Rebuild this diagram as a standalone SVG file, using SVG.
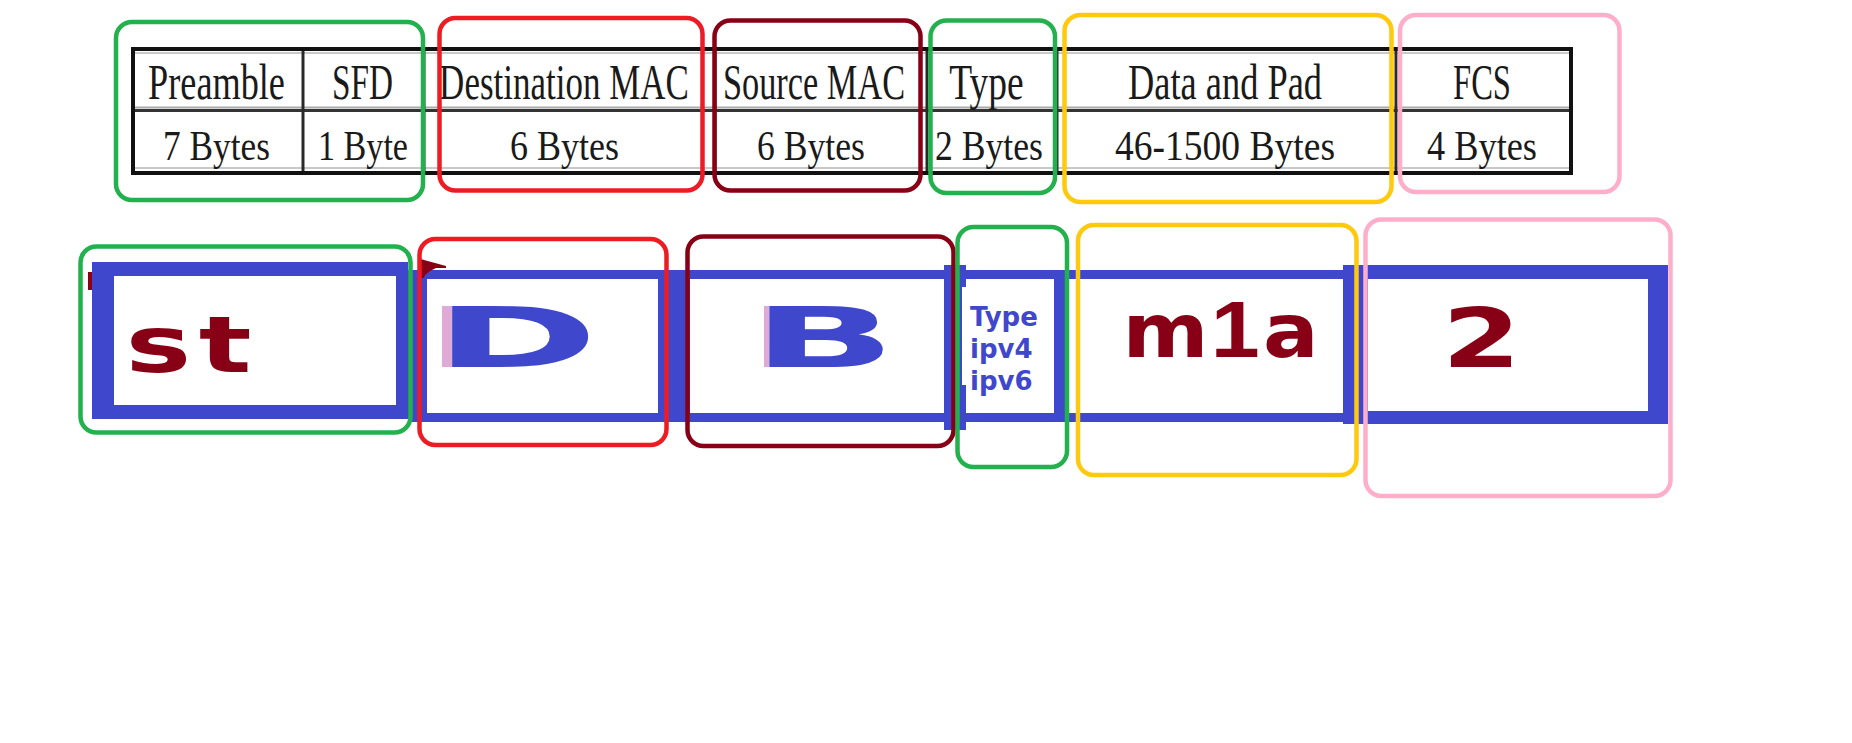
<svg xmlns="http://www.w3.org/2000/svg" width="1852" height="743" viewBox="0 0 1852 743">
  <defs>
    <style>
      .hdr { font-family: "Liberation Serif", "DejaVu Serif", serif; font-size: 50px; fill: #1a1a1a; text-anchor: middle; }
      .sz { font-family: "Liberation Serif", "DejaVu Serif", serif; font-size: 42px; fill: #1a1a1a; text-anchor: middle; }
      .grid { stroke: #2a2a2a; stroke-width: 3; fill: none; }
      .frame { fill: none; stroke-width: 4.5; }
      .green { stroke: #22B14C; }
      .red { stroke: #ED1C24; }
      .maroon { stroke: #880015; }
      .yellow { stroke: #FFC90E; }
      .pink { stroke: #FFAEC9; }
      .blue { fill: #3F48CC; }
      .big { font-family: "DejaVu Sans", "Liberation Sans", sans-serif; font-weight: bold; }
      .dr { fill: #880015; }
      .bl { fill: #3F48CC; }
      .small { font-family: "DejaVu Sans", "Liberation Sans", sans-serif; font-weight: bold; font-size: 26px; fill: #3F48CC; }
    </style>
  </defs>

  <rect width="1852" height="743" fill="#ffffff"/>

  <!-- Ethernet frame table -->
  <g id="frame-table">
    <rect x="133" y="49" width="1438" height="124" fill="#ffffff" stroke="#111" stroke-width="4"/>
    <line x1="135" y1="53" x2="1569" y2="53" stroke="#c8c8c8" stroke-width="2"/>
    <line x1="135" y1="168" x2="1569" y2="168" stroke="#c8c8c8" stroke-width="2"/>
    <line x1="135" y1="107.5" x2="1569" y2="107.5" stroke="#aaaaaa" stroke-width="2"/>
    <line x1="135" y1="110.5" x2="1569" y2="110.5" stroke="#333333" stroke-width="3"/>
    <line class="grid" x1="303" y1="51" x2="303" y2="171"/>
    <line class="grid" x1="424" y1="51" x2="424" y2="171"/>
    <line class="grid" x1="715" y1="51" x2="715" y2="171"/>
    <line class="grid" x1="927" y1="51" x2="927" y2="171"/>
    <line class="grid" x1="1057" y1="51" x2="1057" y2="171"/>
    <line class="grid" x1="1396" y1="51" x2="1396" y2="171"/>

    <!-- condensed serif labels: header row -->
    <text class="hdr" transform="translate(216.5,99) scale(0.725,1)">Preamble</text>
    <text class="hdr" transform="translate(362.5,99) scale(0.665,1)">SFD</text>
    <text class="hdr" transform="translate(564,99) scale(0.70,1)">Destination MAC</text>
    <text class="hdr" transform="translate(814,99) scale(0.687,1)">Source MAC</text>
    <text class="hdr" transform="translate(986.5,99) scale(0.75,1)">Type</text>
    <text class="hdr" transform="translate(1225,99) scale(0.728,1)">Data and Pad</text>
    <text class="hdr" transform="translate(1482,99) scale(0.652,1)">FCS</text>

    <!-- size row -->
    <text class="sz" transform="translate(216.5,160) scale(0.841,1)">7 Bytes</text>
    <text class="sz" transform="translate(363,160) scale(0.812,1)">1 Byte</text>
    <text class="sz" transform="translate(564.5,160) scale(0.857,1)">6 Bytes</text>
    <text class="sz" transform="translate(811,160) scale(0.849,1)">6 Bytes</text>
    <text class="sz" transform="translate(989,160) scale(0.849,1)">2 Bytes</text>
    <text class="sz" transform="translate(1225,160) scale(0.894,1)">46-1500 Bytes</text>
    <text class="sz" transform="translate(1482,160) scale(0.865,1)">4 Bytes</text>
  </g>

  <!-- Highlight frames around the table fields -->
  <g id="table-highlights">
    <rect id="hl-preamble-sfd" class="frame green" x="116" y="22" width="307" height="178" rx="16"/>
    <rect id="hl-dest" class="frame red" x="439.5" y="18" width="263" height="172.5" rx="16"/>
    <rect id="hl-src" class="frame maroon" x="714.5" y="20.5" width="206" height="170" rx="16"/>
    <rect id="hl-type" class="frame green" x="930.5" y="20.5" width="124.5" height="172.5" rx="16"/>
    <rect id="hl-data" class="frame yellow" x="1064.5" y="15" width="327" height="187" rx="16"/>
    <rect id="hl-fcs" class="frame pink" x="1400" y="15" width="219.5" height="177" rx="16"/>
  </g>

  <!-- Blue field boxes of the sketched frame -->
  <g id="field-boxes">
    <path class="blue" fill-rule="evenodd" d="M92 262H408V419H92Z M114 276V405H396V276Z"/>
    <rect class="blue" x="408" y="270" width="935" height="9"/>
    <rect class="blue" x="408" y="413" width="935" height="9"/>
    <rect class="blue" x="408" y="270" width="19" height="152"/>
    <rect class="blue" x="658" y="270" width="32" height="152"/>
    <rect class="blue" x="944" y="265" width="18" height="165"/>
    <rect class="blue" x="962" y="265" width="4" height="22"/>
    <rect class="blue" x="962" y="385" width="4" height="45"/>
    <rect class="blue" x="1054" y="270" width="11" height="152"/>
    <path class="blue" fill-rule="evenodd" d="M1343 265H1668V424H1343Z M1368 279V411H1648V279Z"/>
    <rect class="dr" x="88" y="272" width="4" height="18"/>
    <polygon class="dr" points="421,259 424,260 446,266 446,268 436,268 430,271 425,275 424,278 421,278"/>
  </g>

  <g id="node-start">
    <text class="big dr" font-size="79" letter-spacing="5.3" transform="translate(125.5,372) scale(1.4,1)">st</text>
    <rect id="hl-start" class="frame green" x="80.5" y="246.5" width="330" height="186" rx="16"/>
  </g>

  <g id="node-dest">
    <rect x="442" y="306" width="10" height="61" fill="#E0AAD6"/>
    <text class="big bl" font-size="84" transform="translate(434,367) scale(2.36,1)">D</text>
    <rect id="hl-d" class="frame red" x="419.5" y="239" width="247" height="206" rx="16"/>
  </g>

  <g id="node-src">
    <rect x="764" y="306" width="5" height="61" fill="#E0AAD6"/>
    <text class="big bl" font-size="84" transform="translate(752,367) scale(2.25,1)">B</text>
    <rect id="hl-b" class="frame maroon" x="687.5" y="236.5" width="266" height="209.5" rx="16"/>
  </g>

  <g id="node-type">
    <text class="small" x="970" y="326">Type</text>
    <text class="small" x="970" y="358">ipv4</text>
    <text class="small" x="970" y="390">ipv6</text>
    <rect id="hl-t" class="frame green" x="957.5" y="227" width="109.5" height="240" rx="16"/>
  </g>

  <g id="node-data">
    <text class="big dr" font-size="75" transform="translate(1122.6,357) scale(1.1,1)">m<tspan dx="2" font-family="Liberation Sans, sans-serif" font-size="80">1</tspan><tspan dx="3">a</tspan></text>
    <rect id="hl-m" class="frame yellow" x="1078" y="225" width="278.5" height="250" rx="16"/>
  </g>

  <g id="node-fcs">
    <text class="big dr" font-size="81" transform="translate(1442,367) scale(1.4,1)">2</text>
    <rect id="hl-2" class="frame pink" x="1365.5" y="219.5" width="305" height="276.5" rx="16"/>
  </g>
</svg>
